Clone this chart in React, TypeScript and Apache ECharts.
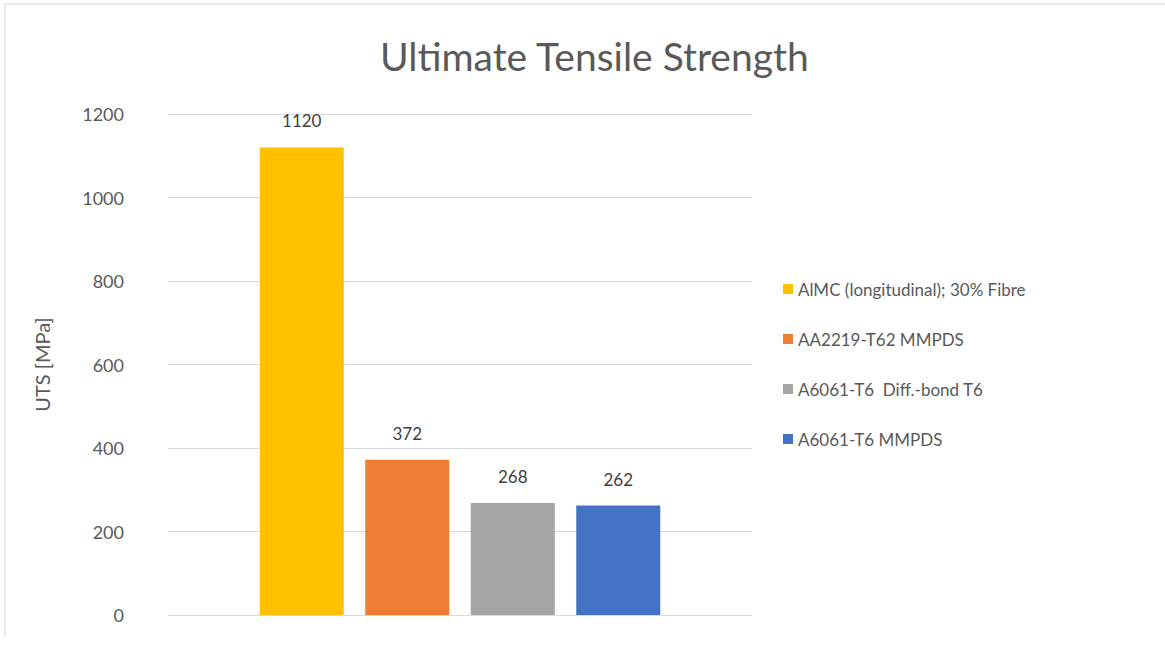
import React, { useEffect, useRef } from "react";
import * as echarts from "echarts";

const seriesNames = [
  "AlMC (longitudinal); 30% Fibre",
  "AA2219-T62 MMPDS",
  "A6061-T6  Diff.-bond T6",
  "A6061-T6 MMPDS",
];
const seriesValues = [1120, 372, 268, 262];
const seriesColors = ["#FFC000", "#ED7D31", "#A5A5A5", "#4472C4"];
const categories = [""];

export default function App() {
  const ref = useRef<HTMLDivElement>(null);
  useEffect(() => {
    document.body.style.margin = "0";
    const chart = echarts.init(ref.current!, null, { renderer: "svg" });
    const font = "Lato, 'Open Sans', sans-serif";
    chart.setOption({
      animation: false,
      backgroundColor: "#ffffff",
      textStyle: { fontFamily: font },
      title: {
        text: "Ultimate Tensile Strength",
        left: 375,
        top: 31,
        textStyle: { fontFamily: font, fontSize: 39, fontWeight: "normal", color: "#595959" },
      },
      legend: {
        orient: "vertical",
        left: 778,
        top: 274,
        itemWidth: 10,
        itemHeight: 10,
        itemGap: 30,
        icon: "rect",
        textStyle: { fontFamily: font, fontSize: 17, lineHeight: 20, color: "#595959" },
        data: seriesNames,
      },
      grid: { left: 168, right: 413, top: 114, bottom: 30 },
      xAxis: {
        type: "category",
        data: categories,
        axisLine: { lineStyle: { color: "#d9d9d9" } },
        axisTick: { show: false },
        axisLabel: { show: false },
      },
      yAxis: {
        type: "value",
        min: 0,
        max: 1200,
        interval: 200,
        name: "UTS [MPa]",
        nameLocation: "middle",
        nameGap: 116,
        nameTextStyle: { fontFamily: font, fontSize: 20, color: "#595959" },
        axisLine: { show: false },
        axisTick: { show: false },
        axisLabel: {
          fontFamily: font,
          fontSize: 18,
          color: "#595959",
          margin: 44,
          formatter: (v: number) => String(v),
        },
        splitLine: { lineStyle: { color: "#d9d9d9" } },
      },
      series: seriesNames.map((name, i) => ({
        type: "bar",
        name,
        data: [seriesValues[i]],
        barWidth: 84,
        barGap: "25.6%",
        itemStyle: { color: seriesColors[i] },
        label: {
          show: true,
          position: "top",
          distance: 18,
          fontFamily: font,
          fontSize: 17,
          color: "#404040",
        },
      })),
      graphic: [
        { type: "line", shape: { x1: 5, y1: 4, x2: 1165, y2: 4 }, style: { stroke: "#d9d9d9", lineWidth: 1 } },
        { type: "line", shape: { x1: 5, y1: 4, x2: 5, y2: 637 }, style: { stroke: "#d9d9d9", lineWidth: 1 } },
      ],
    });
    return () => chart.dispose();
  }, []);
  return <div ref={ref} style={{ width: 1165, height: 645 }} />;
}
